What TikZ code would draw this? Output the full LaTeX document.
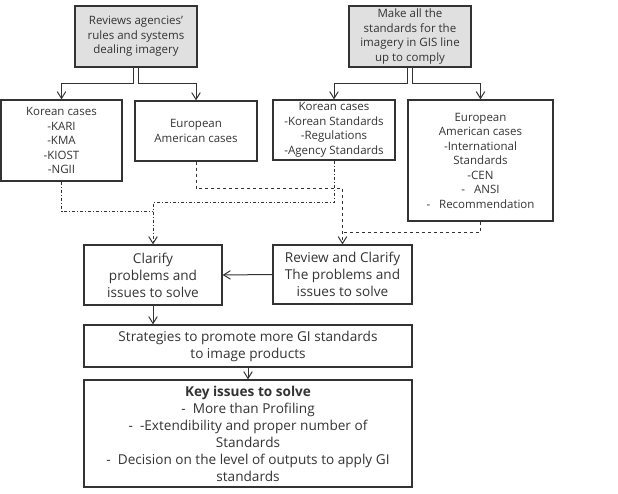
\documentclass[tikz,border=0pt]{standalone}
\usepackage{fontspec}
\setmainfont{Open Sans}
\usetikzlibrary{arrows.meta}
\definecolor{boxfill}{HTML}{E0E0E0}
\definecolor{ink}{HTML}{333333}

\begin{document}
\begin{tikzpicture}[x=1pt,y=-1pt,
  box/.style={draw=ink,line width=1.3pt,text=ink,align=center,inner sep=1pt,font=\fontsize{11.5}{14.5}\selectfont},
  topbox/.style={box,fill=boxfill},
  lowbox/.style={box,font=\fontsize{13.6}{17}\selectfont},
  arr/.style={draw=ink,line width=1pt,-{Straight Barb[length=2.4mm,width=3mm]}},
  dd/.style={draw=ink,line width=1pt,dash dot},
  ds/.style={draw=ink,line width=1pt,dashed}]
  \useasboundingbox (0,0) rectangle (618,494);
  % top boxes
  \node[topbox,minimum width=122pt,minimum height=61pt] (rev) at (136,36.5)
    {Reviews agencies'\\rules and systems\\dealing imagery};
  \node[topbox,minimum width=122pt,minimum height=61pt] (mak) at (410,36.5)
    {Make all the\\standards for the\\imagery in GIS line\\up to comply};
  % cases
  \node[box,minimum width=121pt,minimum height=81pt] (korL) at (61.5,140.5)
    {Korean cases\\-KARI\\-KMA\\-KIOST\\-NGII};
  \node[box,minimum width=122pt,minimum height=60pt] (eurL) at (196,131)
    {European\\American cases};
  \node[box,minimum width=122pt,minimum height=60pt] (korR) at (334,130)
    {Korean cases\\-Korean Standards\\-Regulations\\-Agency Standards};
  \node[box,minimum width=145pt,minimum height=121pt] (eurR) at (480.5,160.5)
    {European\\American cases\\-International\\Standards\\-CEN\\-\ \ \ ANSI\\-\ \ \ Recommendation};
  % lower part
  \node[lowbox,minimum width=138pt,minimum height=60pt] (clar) at (153,275)
    {Clarify\\problems and\\issues to solve};
  \node[lowbox,minimum width=139pt,minimum height=59pt] (revc) at (342.5,274.5)
    {Review and Clarify\\The problems and\\issues to solve};
  \node[lowbox,minimum width=328pt,minimum height=42pt] (strat) at (248,346)
    {Strategies to promote more GI standards\\to image products};
  \node[lowbox,minimum width=328pt,minimum height=107pt] (key) at (248,433.5)
    {\textbf{Key issues to solve}\\-\ \ More than Profiling\\-\ \ -Extendibility and proper number of\\Standards\\-\ \ Decision on the level of outputs to apply GI\\standards};
  % solid arrows
  \draw[arr] ([xshift=-2.5]rev.south) -- ++(0,16) -| (korL.north);
  \draw[arr] ([xshift=2.5]rev.south) -- ++(0,16) -| (eurL.north);
  \draw[arr] ([xshift=-2.5]mak.south) -- ++(0,16) -| (korR.north);
  \draw[arr] ([xshift=2.5]mak.south) -- ++(0,16) -| (eurR.north);
  \draw[arr] (revc.west) -- (clar.east);
  \draw[arr] (clar.south) -- (clar.south |- strat.north);
  \draw[arr] (strat.south) -- (key.north);
  % dashed links
  \coordinate (m1) at ([yshift=33]clar.north);
  \coordinate (m2) at ([yshift=12]revc.north);
  \draw[dd] (korL.south) |- (m1);
  \draw[dd,arr,dash dot] (korR.south) -- ++(0,42) -| (clar.north);
  \draw[ds,arr,dashed] (eurL.south) -- ++(0,27) -| (revc.north);
  \draw[ds] (eurR.south) |- (m2);
\end{tikzpicture}
\end{document}
